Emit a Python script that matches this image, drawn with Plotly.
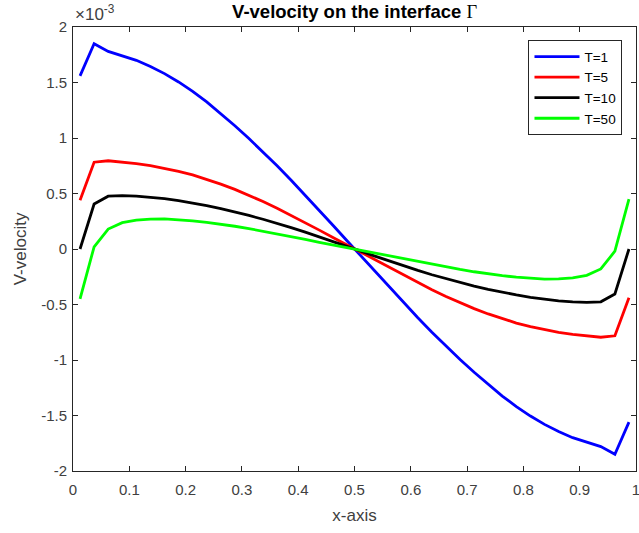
import plotly.graph_objects as go

# Sample positions along the interface
x_pos = [0.0125, 0.0375, 0.0625, 0.0875, 0.1125, 0.1375, 0.1625, 0.1875, 0.2125, 0.2375,
         0.2625, 0.2875, 0.3125, 0.3375, 0.3625, 0.3875, 0.4125, 0.4375, 0.4625, 0.4875,
         0.5125, 0.5375, 0.5625, 0.5875, 0.6125, 0.6375, 0.6625, 0.6875, 0.7125, 0.7375,
         0.7625, 0.7875, 0.8125, 0.8375, 0.8625, 0.8875, 0.9125, 0.9375, 0.9625, 0.9875]

# V-velocity values in units of 1e-3
v_t1 = [1.56, 1.85, 1.78, 1.74, 1.70, 1.645, 1.58, 1.505, 1.42, 1.325,
        1.22, 1.11, 0.995, 0.875, 0.75, 0.62, 0.485, 0.35, 0.21, 0.07,
        -0.07, -0.21, -0.35, -0.485, -0.62, -0.75, -0.875, -0.995, -1.11, -1.22,
        -1.325, -1.42, -1.505, -1.58, -1.645, -1.70, -1.74, -1.78, -1.85, -1.56]
v_t5 = [0.44, 0.782, 0.795, 0.784, 0.77, 0.752, 0.729, 0.70, 0.667, 0.628,
        0.585, 0.537, 0.485, 0.428, 0.367, 0.303, 0.237, 0.17, 0.102, 0.034,
        -0.034, -0.102, -0.17, -0.237, -0.303, -0.367, -0.428, -0.485, -0.537, -0.585,
        -0.628, -0.667, -0.70, -0.729, -0.752, -0.77, -0.784, -0.795, -0.782, -0.44]
v_t10 = [0.0, 0.405, 0.476, 0.481, 0.477, 0.468, 0.454, 0.436, 0.414, 0.39,
         0.363, 0.334, 0.302, 0.268, 0.232, 0.193, 0.152, 0.11, 0.066, 0.022,
         -0.022, -0.066, -0.11, -0.152, -0.193, -0.232, -0.268, -0.302, -0.334, -0.363,
         -0.39, -0.414, -0.436, -0.454, -0.468, -0.477, -0.481, -0.476, -0.405, 0.0]
v_t50 = [-0.45, 0.02, 0.18, 0.237, 0.26, 0.27, 0.272, 0.265, 0.254, 0.24,
         0.224, 0.205, 0.184, 0.161, 0.137, 0.112, 0.086, 0.06, 0.035, 0.012,
         -0.012, -0.035, -0.06, -0.086, -0.112, -0.137, -0.161, -0.184, -0.205, -0.224,
         -0.24, -0.254, -0.265, -0.272, -0.27, -0.26, -0.237, -0.18, -0.02, 0.45]

series_names = ["T=1", "T=5", "T=10", "T=50"]
series_values = [v_t1, v_t5, v_t10, v_t50]
series_colors = ["#0000FF", "#FF0000", "#000000", "#00FF00"]

SCALE = 1e-3
x_ticks = [0, 0.1, 0.2, 0.3, 0.4, 0.5, 0.6, 0.7, 0.8, 0.9, 1]
x_tick_text = ["0", "0.1", "0.2", "0.3", "0.4", "0.5", "0.6", "0.7", "0.8", "0.9", "1"]
y_ticks = [-2, -1.5, -1, -0.5, 0, 0.5, 1, 1.5, 2]
y_tick_text = ["-2", "-1.5", "-1", "-0.5", "0", "0.5", "1", "1.5", "2"]

FONT = "Liberation Sans, Arial, sans-serif"
AXIS_COLOR = "#262626"
TEXT_COLOR = "#404040"

fig = go.Figure()
for name, vals, color in zip(series_names, series_values, series_colors):
    fig.add_trace(go.Scatter(
        x=x_pos, y=[v * SCALE for v in vals], mode="lines", name=name,
        line=dict(color=color, width=2.8),
    ))

axis_common = dict(
    showline=True, linecolor=AXIS_COLOR, linewidth=1, mirror="ticks",
    ticks="inside", ticklen=5, tickcolor=AXIS_COLOR, tickwidth=1,
    showgrid=False, zeroline=False, ticklabeloverflow="allow",
    tickfont=dict(family=FONT, size=15, color=TEXT_COLOR),
)

fig.update_xaxes(
    range=[0, 1], tickvals=x_ticks, ticktext=x_tick_text, ticklabelstandoff=5,
    title=dict(text="x-axis", font=dict(family=FONT, size=17, color=TEXT_COLOR), standoff=12),
    **axis_common,
)
fig.update_yaxes(
    range=[-2 * SCALE, 2 * SCALE], tickvals=[t * SCALE for t in y_ticks], ticktext=y_tick_text,
    ticklabelstandoff=2,
    title=dict(text="V-velocity", font=dict(family=FONT, size=17, color=TEXT_COLOR), standoff=10),
    **axis_common,
)

fig.update_layout(
    width=639, height=533,
    margin=dict(l=73, r=3, t=27, b=62, autoexpand=False),
    paper_bgcolor="white", plot_bgcolor="white",
    title=dict(
        text="<b>V-velocity on the interface </b><span style=\"font-family:'Liberation Serif', serif\">Γ</span>",
        font=dict(family=FONT, size=18.5, color="#000000"),
        x=0.555, xanchor="center", y=0.978, yanchor="middle",
    ),
    legend=dict(
        x=0.976, xanchor="right", y=0.97, yanchor="top",
        bgcolor="white", bordercolor=AXIS_COLOR, borderwidth=1,
        font=dict(family=FONT, size=13.5, color="#000000"),
        itemwidth=45,
    ),
    showlegend=True,
    annotations=[dict(
        text="×10<sup>-3</sup>", xref="paper", yref="paper",
        x=0.0, y=1.0, xanchor="left", yanchor="bottom", yshift=1,
        showarrow=False, font=dict(family=FONT, size=17, color=TEXT_COLOR),
    )],
)

fig.write_html("out.html")
